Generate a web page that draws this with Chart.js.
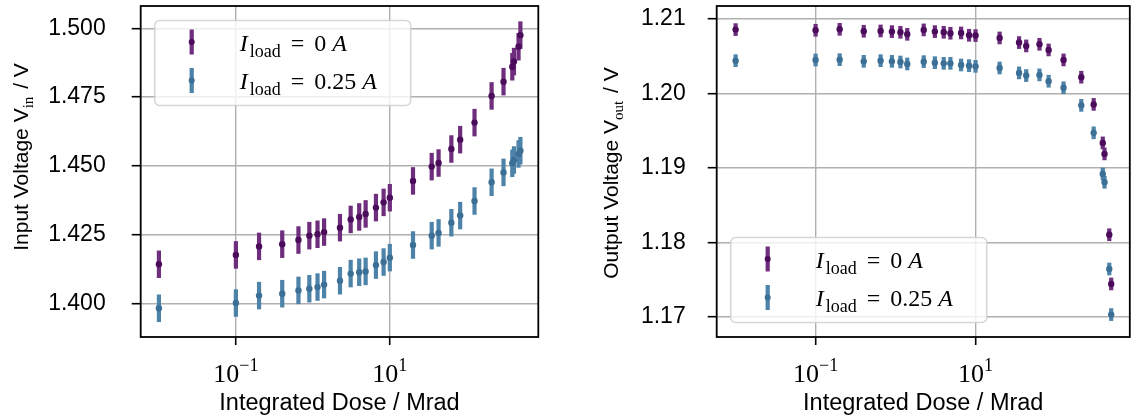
<!DOCTYPE html>
<html>
<head>
  <meta charset="UTF-8">
  <title>Input / Output Voltage vs Integrated Dose</title>
  <script src="https://cdn.jsdelivr.net/npm/chart.js"></script>
  <style>
    body { margin: 0; background: #fff; }
    .panel { position: absolute; top: 0; height: 419px; }
    #p1 { left: 0; width: 566px; }
    #p2 { left: 566px; width: 567px; }
  </style>
</head>
<body>
  <div class="panel" id="p1"><canvas id="vin"></canvas></div>
  <div class="panel" id="p2"><canvas id="vout"></canvas></div>

  <script>
    // integrated dose in Mrad (same steps for both panels)
    const dose = [0.01, 0.1, 0.2, 0.4, 0.65, 0.9, 1.15, 1.4, 2.25, 3.1, 4.0, 4.85, 6.6, 8.3, 10,
                  20, 35, 43, 63, 82, 126, 210, 300, 390, 410, 470, 497];

    // input voltage, V
    const vinNoLoad = [1.4142, 1.4176, 1.4207, 1.4215, 1.4230, 1.4246, 1.4251, 1.4259, 1.4275, 1.4305,
                       1.4314, 1.4325, 1.4348, 1.4367, 1.4384, 1.4445, 1.4497, 1.4510, 1.4561, 1.4595,
                       1.4657, 1.4754, 1.4806, 1.4860, 1.4879, 1.4933, 1.4975];
    const vinLoad = [1.3982, 1.4001, 1.4028, 1.4035, 1.4047, 1.4053, 1.4059, 1.4068, 1.4082, 1.4108,
                     1.4113, 1.4116, 1.4139, 1.4150, 1.4166, 1.4212, 1.4246, 1.4256, 1.4293, 1.4319,
                     1.4372, 1.4440, 1.4476, 1.4509, 1.4521, 1.4543, 1.4555];

    // output voltage, V
    const voutNoLoad = [1.20857, 1.20848, 1.20861, 1.20835, 1.20839, 1.20830, 1.20821, 1.20794, 1.20853,
                        1.20830, 1.20821, 1.20808, 1.20812, 1.20781, 1.20777, 1.20745, 1.20683, 1.20638,
                        1.20660, 1.20584, 1.20450, 1.20218, 1.19853, 1.19336, 1.19188, 1.18103, 1.17442];
    const voutLoad = [1.20440, 1.20449, 1.20453, 1.20431, 1.20440, 1.20431, 1.20422, 1.20396, 1.20427,
                      1.20413, 1.20404, 1.20404, 1.20382, 1.20373, 1.20364, 1.20342, 1.20276, 1.20240,
                      1.20249, 1.20164, 1.20076, 1.19840, 1.19471, 1.18919, 1.18807, 1.17643, 1.17031];

    const vinErr = 0.005;
    const voutErr = 0.00085;

    const xTicks = [0.1, 10];
    const vinTicks = [1.400, 1.425, 1.450, 1.475, 1.500];
    const voutTicks = [1.17, 1.18, 1.19, 1.20, 1.21];
    const seriesLabels = ['0', '0.25'];

    const purple = '#4b0c5c', purpleBar = '#6e2d7d';
    const blue = '#3b6f95', blueBar = '#4d83a9';
    const SANS = '"Liberation Sans", Arial, sans-serif';
    const SERIF = '"Liberation Serif", "Times New Roman", serif';

    // vertical error bars, drawn under the markers
    const errorBars = {
      id: 'errorBars',
      beforeDatasetsDraw(chart) {
        const ctx = chart.ctx, ys = chart.scales.y;
        chart.data.datasets.forEach((ds, i) => {
          const meta = chart.getDatasetMeta(i);
          ctx.save();
          ctx.strokeStyle = ds.barColor;
          ctx.lineWidth = 4.2;
          meta.data.forEach((pt, j) => {
            const v = ds.data[j].y;
            ctx.beginPath();
            ctx.moveTo(pt.x, ys.getPixelForValue(v + ds.err));
            ctx.lineTo(pt.x, ys.getPixelForValue(v - ds.err));
            ctx.stroke();
          });
          ctx.restore();
        });
      }
    };

    function drawParts(ctx, parts, x, y) {
      parts.forEach(p => {
        ctx.font = p.font;
        ctx.fillText(p.t, x, y + (p.dy || 0));
        x += ctx.measureText(p.t).width + (p.gap || 0);
      });
    }
    function partsWidth(ctx, parts) {
      let w = 0;
      parts.forEach(p => { ctx.font = p.font; w += ctx.measureText(p.t).width + (p.gap || 0); });
      return w;
    }

    function legendParts(val) {
      return [
        { t: 'I', font: 'italic 24px ' + SERIF, gap: 2 },
        { t: 'load', font: '18px ' + SERIF, dy: 6, gap: 10 },
        { t: '=', font: '24px ' + SERIF, gap: 10 },
        { t: val, font: '24px ' + SERIF, gap: 6 },
        { t: 'A', font: 'italic 24px ' + SERIF }
      ];
    }

    // frame, log tick labels, axis titles and legend
    const deco = {
      id: 'deco',
      afterDraw(chart, args, o) {
        const ctx = chart.ctx, ca = chart.chartArea, xs = chart.scales.x;
        ctx.save();
        ctx.fillStyle = '#000';
        ctx.textBaseline = 'alphabetic';
        ctx.textAlign = 'left';

        // x tick labels 10^n
        xTicks.forEach(v => {
          const px = xs.getPixelForValue(v);
          const exp = String(Math.round(Math.log10(v))).replace('-', '\u2212');
          ctx.font = '26px ' + SERIF;
          const w1 = ctx.measureText('10').width;
          ctx.font = '18px ' + SERIF;
          const w2 = ctx.measureText(exp).width;
          const x0 = px - (w1 + w2) / 2, base = ca.bottom + 45;
          ctx.font = '26px ' + SERIF;
          ctx.fillText('10', x0, base);
          ctx.font = '18px ' + SERIF;
          ctx.fillText(exp, x0 + w1, base - 11);
        });

        // x title
        ctx.font = '23.5px ' + SANS;
        ctx.textAlign = 'center';
        ctx.fillText('Integrated Dose / Mrad', (ca.left + ca.right) / 2, ca.bottom + 73);
        ctx.textAlign = 'left';

        // y title
        const tw = partsWidth(ctx, o.title);
        ctx.save();
        ctx.translate(ca.left - o.titleOff, o.titleY);
        ctx.rotate(-Math.PI / 2);
        drawParts(ctx, o.title, -tw / 2, 0);
        ctx.restore();

        // frame
        ctx.strokeStyle = '#000';
        ctx.lineWidth = 1.8;
        ctx.strokeRect(ca.left, ca.top, ca.right - ca.left, ca.bottom - ca.top);

        // legend
        const bw = 256, bh = 85;
        const bx = ca.left + 14;
        const by = o.legendTop ? ca.top + 14.5 : ca.bottom - 14.5 - bh;
        ctx.beginPath();
        ctx.roundRect(bx, by, bw, bh, 5);
        ctx.fillStyle = 'rgba(255,255,255,0.8)';
        ctx.fill();
        ctx.strokeStyle = 'rgba(204,204,204,0.8)';
        ctx.lineWidth = 1.5;
        ctx.stroke();
        const rows = [[purple, purpleBar], [blue, blueBar]];
        rows.forEach((c, i) => {
          const cy = by + 21.5 + i * 38.5;
          const sx = bx + 37;
          ctx.strokeStyle = c[1];
          ctx.lineWidth = 4.2;
          ctx.beginPath();
          ctx.moveTo(sx, cy - 12.5);
          ctx.lineTo(sx, cy + 12.5);
          ctx.stroke();
          ctx.fillStyle = c[0];
          ctx.beginPath();
          ctx.arc(sx, cy, 3, 0, Math.PI * 2);
          ctx.fill();
          ctx.fillStyle = '#000';
          drawParts(ctx, legendParts(seriesLabels[i]), bx + 85, cy + 8.5);
        });
        ctx.restore();
      }
    };

    function makeChart(id, cfg) {
      const pts = arr => dose.map((d, i) => ({ x: d, y: arr[i] }));
      return new Chart(document.getElementById(id), {
        type: 'scatter',
        data: {
          datasets: [
            { data: pts(cfg.a), err: cfg.err, barColor: purpleBar, backgroundColor: purple,
              pointRadius: 3.2, pointBorderWidth: 0, pointHoverRadius: 3.2 },
            { data: pts(cfg.b), err: cfg.err, barColor: blueBar, backgroundColor: blue,
              pointRadius: 3.2, pointBorderWidth: 0, pointHoverRadius: 3.2 }
          ]
        },
        options: {
          responsive: true,
          maintainAspectRatio: false,
          animation: false,
          devicePixelRatio: 1,
          events: [],
          layout: { padding: { top: 6, right: cfg.padRight, left: 0, bottom: 0 } },
          plugins: {
            legend: { display: false },
            tooltip: { enabled: false },
            deco: { title: cfg.title, titleOff: cfg.titleOff, titleY: cfg.titleY, legendTop: cfg.legendTop }
          },
          scales: {
            x: {
              type: 'logarithmic',
              min: 0.0058, max: 849,
              afterBuildTicks: s => { s.ticks = xTicks.map(v => ({ value: v })); },
              afterFit: s => { s.height = 82; s.paddingLeft = 0; s.paddingRight = 0; },
              ticks: { callback: () => '', autoSkip: false },
              grid: { color: '#b0b0b0', lineWidth: 1.4, tickColor: '#000', tickLength: 8, tickWidth: 1.6 },
              border: { display: false }
            },
            y: {
              min: cfg.yMin, max: cfg.yMax,
              afterBuildTicks: s => { s.ticks = cfg.yTicks.map(v => ({ value: v })); },
              afterFit: s => { s.width = cfg.yWidth; s.paddingTop = 0; s.paddingBottom = 0; },
              ticks: {
                callback: v => v.toFixed(cfg.dec),
                color: '#000',
                font: { family: SANS, size: 23 },
                padding: cfg.tickPad,
                autoSkip: false
              },
              grid: { color: '#b0b0b0', lineWidth: 1.4, tickColor: '#000', tickLength: 9, tickWidth: 1.6 },
              border: { display: false }
            }
          }
        },
        plugins: [errorBars, deco]
      });
    }

    makeChart('vin', {
      a: vinNoLoad, b: vinLoad, err: vinErr,
      yMin: 1.38775, yMax: 1.5081, yTicks: vinTicks, dec: 3,
      yWidth: 140.7, tickPad: 26, padRight: 27.7,
      legendTop: true, titleOff: 112.7, titleY: 157,
      title: [
        { t: 'Input Voltage ', font: '21px ' + SANS },
        { t: 'V', font: '21px ' + SANS },
        { t: 'in', font: '15px ' + SERIF, dy: 5, gap: 2 },
        { t: ' / V', font: '21px ' + SANS }
      ]
    });

    makeChart('vout', {
      a: voutNoLoad, b: voutLoad, err: voutErr,
      yMin: 1.1673, yMax: 1.21174, yTicks: voutTicks, dec: 2,
      yWidth: 150.7, tickPad: 22, padRight: 2.5,
      legendTop: false, titleOff: 98.7, titleY: 173,
      title: [
        { t: 'Output Voltage ', font: '21px ' + SANS },
        { t: 'V', font: '21px ' + SANS },
        { t: 'out', font: '15px ' + SERIF, dy: 5, gap: 2 },
        { t: ' / V', font: '21px ' + SANS }
      ]
    });
  </script>
</body>
</html>
